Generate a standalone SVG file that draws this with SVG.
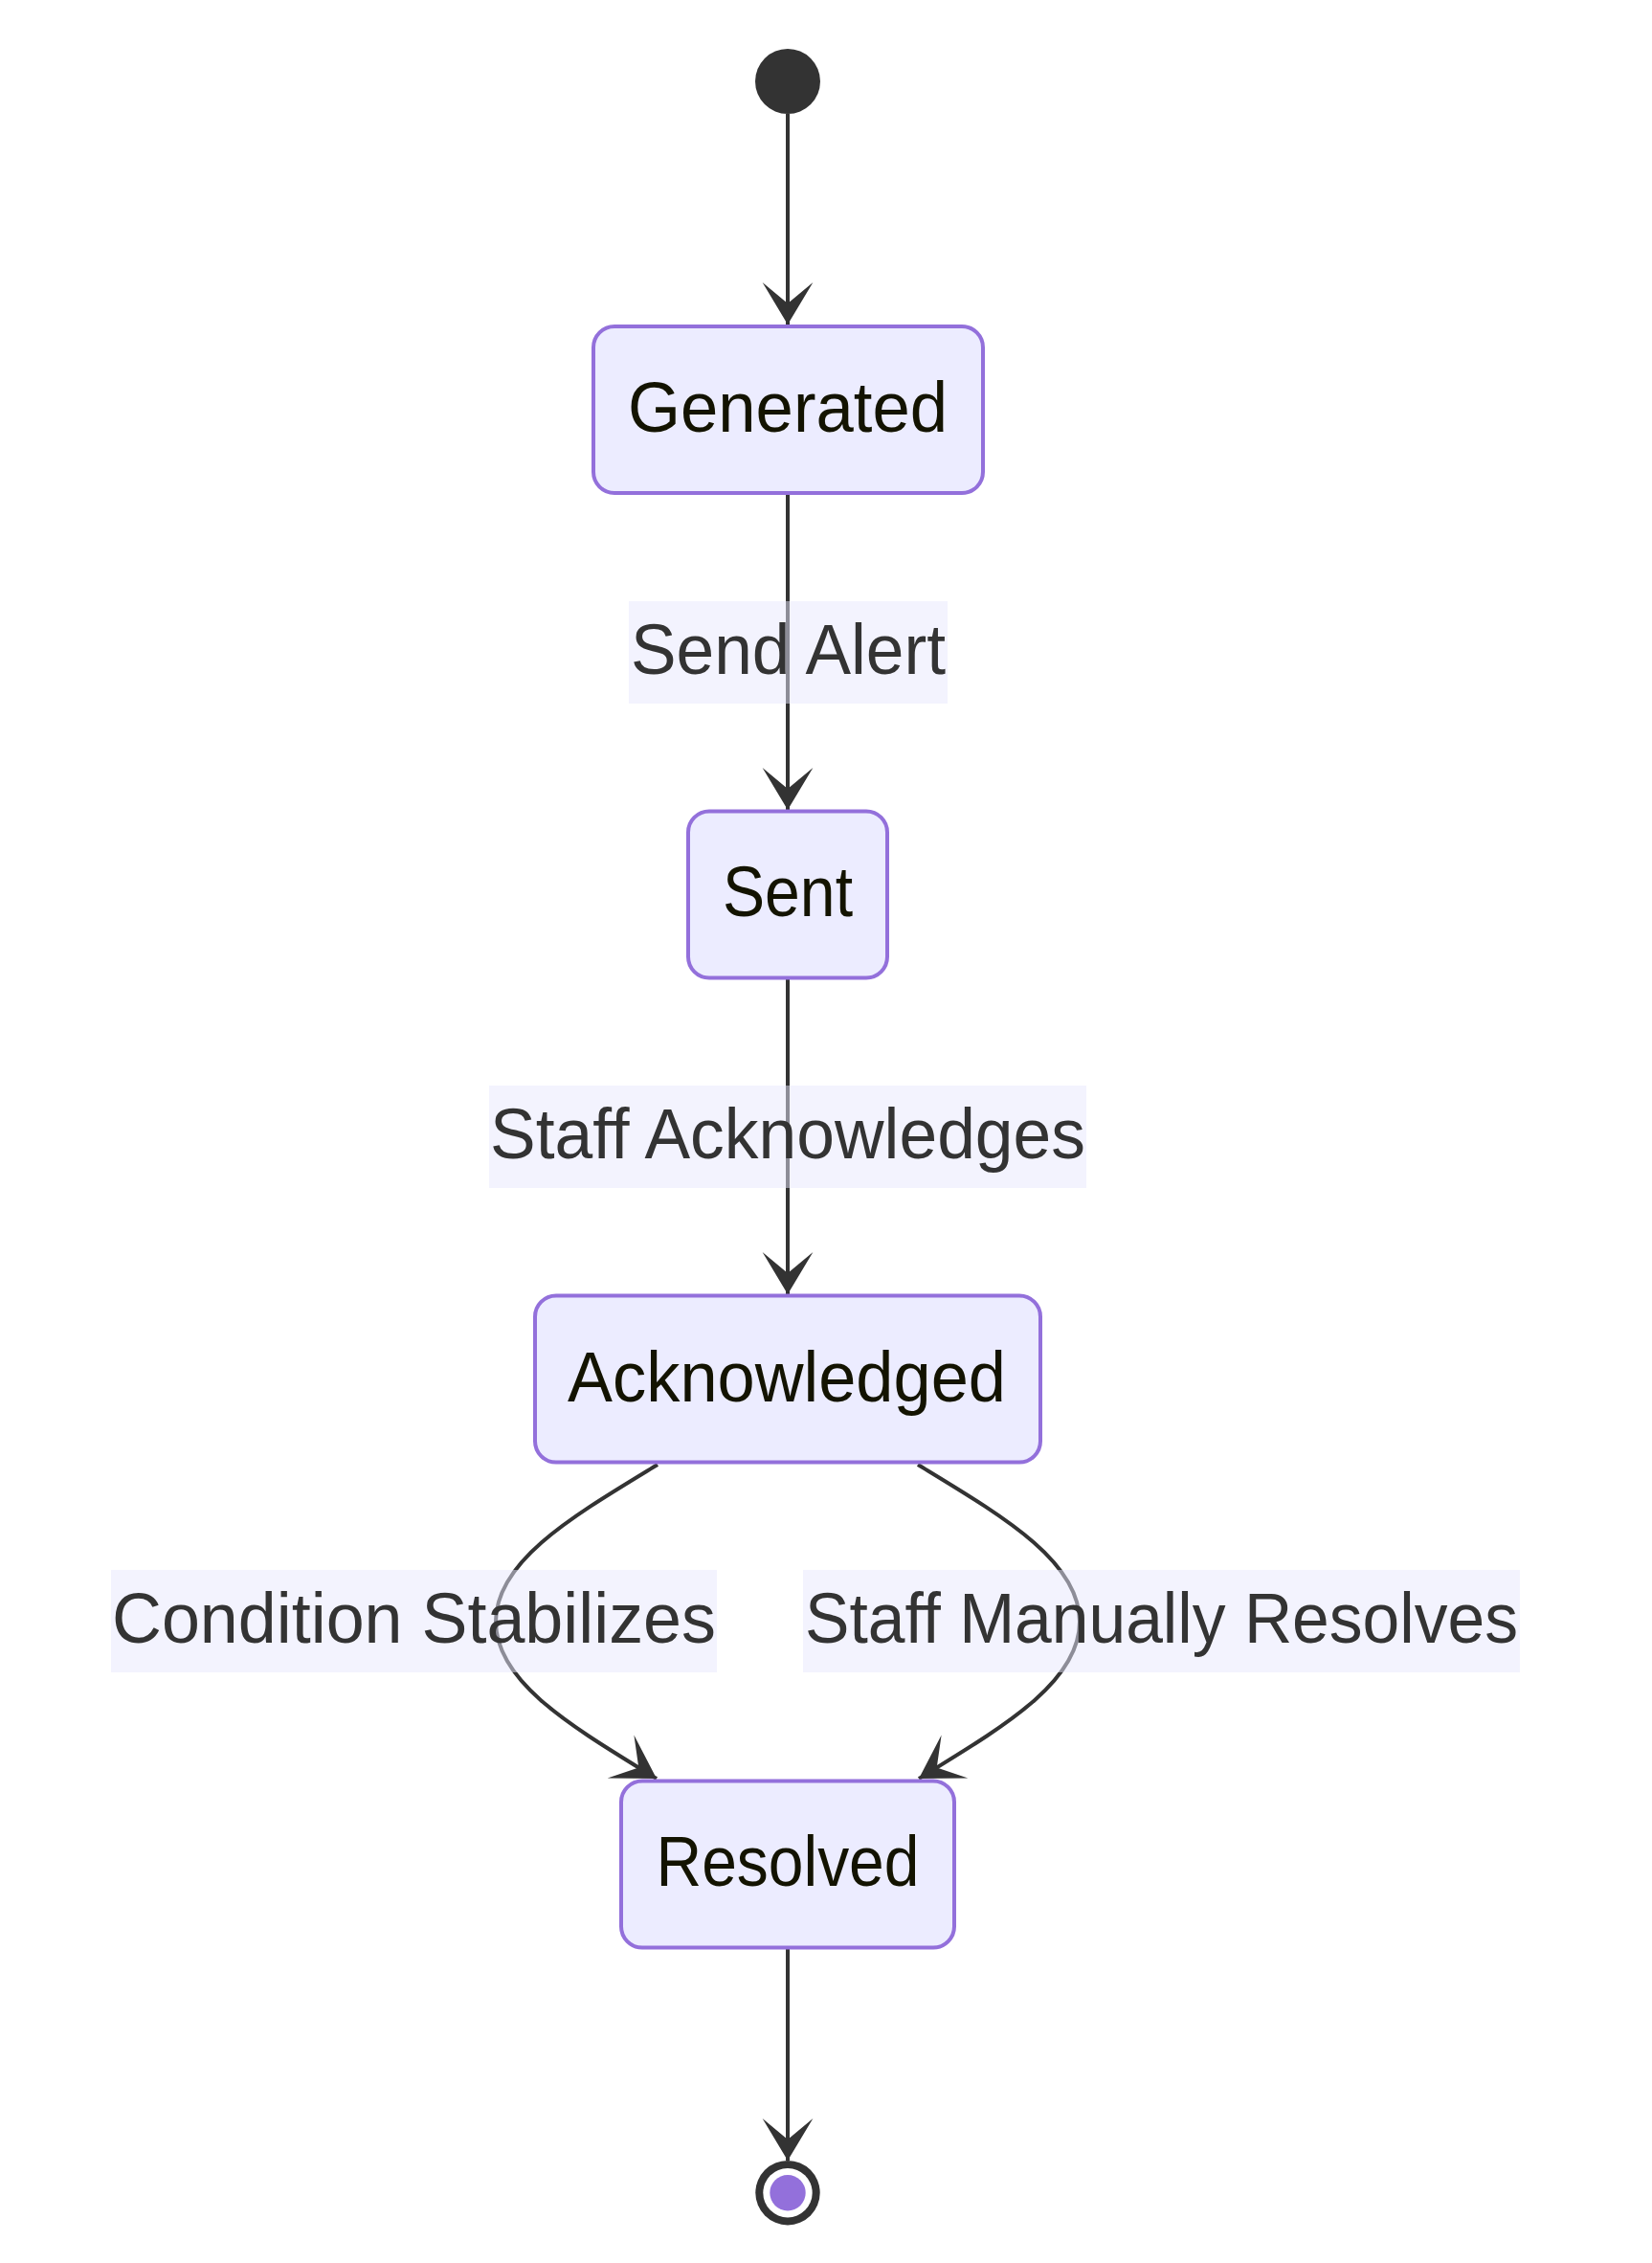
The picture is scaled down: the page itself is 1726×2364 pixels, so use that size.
<svg xmlns="http://www.w3.org/2000/svg" width="1726" height="2364" viewBox="0 0 1726 2364">
<style>
.node rect{fill:#ECECFF;stroke:#9370DB;stroke-width:4}
.ntext{font-family:"Liberation Sans",Arial,sans-serif;font-size:74px;fill:#131300;text-anchor:middle}
.edge{fill:none;stroke:#333333;stroke-width:4}
.lbg{fill:#E8E8FD;opacity:0.5}
.ltext{font-family:"Liberation Sans",Arial,sans-serif;font-size:74px;fill:#333333;text-anchor:middle}
</style>
<defs>
<marker id="barb" markerUnits="userSpaceOnUse" viewBox="0 0 20 14" markerWidth="88" markerHeight="61.6" refX="19" refY="7" orient="auto">
<path d="M19,7 L9,13 L14,7 L9,1 Z" fill="#333333"/>
</marker>
</defs>
<rect width="1726" height="2364" fill="#ffffff"/>
<g id="connectors">
<path class="edge" d="M823,119 L823,339" marker-end="url(#barb)"/>
<path class="edge" d="M823,517 L823,846" marker-end="url(#barb)"/>
<path class="edge" d="M823,1023 L823,1352" marker-end="url(#barb)"/>
<path class="edge" d="M687,1530 C600,1583 518,1630 518,1694 C518,1758 600,1805 686,1858" marker-end="url(#barb)"/>
<path class="edge" d="M959,1530 C1046,1583 1128,1630 1128,1694 C1128,1758 1046,1805 960,1858" marker-end="url(#barb)"/>
<path class="edge" d="M823,2036 L823,2257" marker-end="url(#barb)"/>
</g>
<g id="edge-labels">
<g id="label-send-alert">
<rect class="lbg" x="657" y="628" width="333" height="107"/>
<text class="ltext" x="823.5" y="704" textLength="329" lengthAdjust="spacingAndGlyphs">Send Alert</text>
</g>
<g id="label-staff-acknowledges">
<rect class="lbg" x="511" y="1134" width="624" height="107"/>
<text class="ltext" x="823" y="1210" textLength="622" lengthAdjust="spacingAndGlyphs">Staff Acknowledges</text>
</g>
<g id="label-condition-stabilizes">
<rect class="lbg" x="116" y="1640" width="633" height="107"/>
<text class="ltext" x="432.5" y="1716" textLength="631" lengthAdjust="spacingAndGlyphs">Condition Stabilizes</text>
</g>
<g id="label-staff-manually-resolves">
<rect class="lbg" x="839" y="1640" width="749" height="107"/>
<text class="ltext" x="1213.5" y="1716" textLength="745" lengthAdjust="spacingAndGlyphs">Staff Manually Resolves</text>
</g>
</g>
<g id="start">
<circle cx="823" cy="85" r="34" fill="#333333"/>
</g>
<g id="Generated" class="node">
<rect x="620" y="341" width="407" height="174" rx="22" ry="22"/>
<text class="ntext" x="823" y="451" textLength="334" lengthAdjust="spacingAndGlyphs">Generated</text>
</g>
<g id="Sent" class="node">
<rect x="719" y="847.5" width="208" height="174" rx="22" ry="22"/>
<text class="ntext" x="823" y="957" textLength="136" lengthAdjust="spacingAndGlyphs">Sent</text>
</g>
<g id="Acknowledged" class="node">
<rect x="559" y="1353.5" width="528" height="174" rx="22" ry="22"/>
<text class="ntext" x="822" y="1464" textLength="458" lengthAdjust="spacingAndGlyphs">Acknowledged</text>
</g>
<g id="Resolved" class="node">
<rect x="649" y="1860.5" width="348" height="174" rx="22" ry="22"/>
<text class="ntext" x="823" y="1970" textLength="275" lengthAdjust="spacingAndGlyphs">Resolved</text>
</g>
<g id="end">
<circle cx="823" cy="2290.7" r="33.7" fill="#333333"/>
<circle cx="823" cy="2290.7" r="25.7" fill="#ffffff"/>
<circle cx="823" cy="2290.7" r="18.7" fill="#9370DB"/>
</g>
</svg>
